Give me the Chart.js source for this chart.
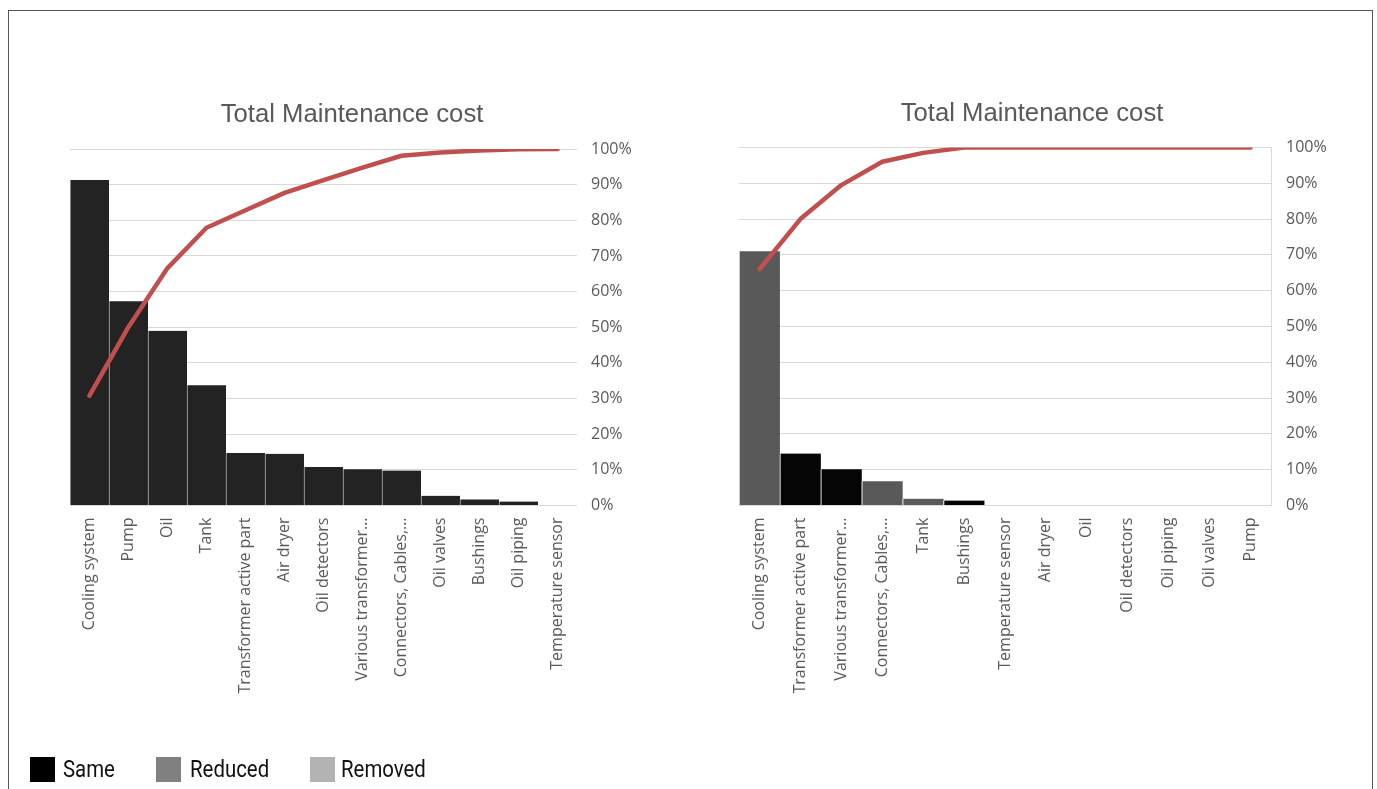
<!DOCTYPE html>
<html>
<head>
<meta charset="utf-8">
<script src="https://cdn.jsdelivr.net/npm/chart.js@4.4.0/dist/chart.umd.min.js"></script>
<style>
  html, body { margin: 0; padding: 0; background: #fff; width: 1377px; height: 789px; overflow: hidden; }
  .frame { position: absolute; left: 8px; top: 10px; width: 1365px; height: 820px; border: 1.5px solid #555; box-sizing: border-box; }
  canvas { position: absolute; top: 0; }
  .title { position: absolute; transform: translate(-50%, -50%); font-family: "Liberation Sans", Arial, sans-serif; font-size: 25.7px; color: #595959; white-space: nowrap; }
  .legend { position: absolute; top: 757px; left: 0; font-family: "Roboto", sans-serif; font-size: 24px; color: #111; }
  .legend span.box { position: absolute; top: 0; width: 25px; height: 25px; }
  .legend span.txt { position: absolute; top: -1px; line-height: 27px; white-space: nowrap; transform: scaleX(0.85); transform-origin: left center; }
</style>
</head>
<body>
<div class="frame"></div>
<canvas id="left" width="690" height="789" style="left:0"></canvas>
<canvas id="right" width="687" height="789" style="left:690px"></canvas>
<div class="title" style="left:352px; top:113px">Total Maintenance cost</div>
<div class="title" style="left:1032px; top:112px">Total Maintenance cost</div>
<div class="legend">
  <span class="box" style="left:30px; background:#000"></span><span class="txt" style="left:63px">Same</span>
  <span class="box" style="left:156px; background:#808080"></span><span class="txt" style="left:190px">Reduced</span>
  <span class="box" style="left:310px; background:#b3b3b3"></span><span class="txt" style="left:341px">Removed</span>
</div>
<script>
// before: left chart
const leftLabels = ['Cooling system', 'Pump', 'Oil', 'Tank', 'Transformer active part', 'Air dryer',
  'Oil detectors', 'Various transformer…', 'Connectors, Cables,…', 'Oil valves', 'Bushings',
  'Oil piping', 'Temperature sensor'];
const leftCost = [91.3, 57.3, 49.0, 33.7, 14.7, 14.5, 10.8, 10.2, 9.8, 2.7, 1.7, 1.1, 0];
const leftCumulative = [30.8, 50.1, 66.6, 77.9, 82.8, 87.7, 91.3, 94.8, 98.1, 99.0, 99.6, 99.9, 100];

// after: right chart
const rightLabels = ['Cooling system', 'Transformer active part', 'Various transformer…',
  'Connectors, Cables,…', 'Tank', 'Bushings', 'Temperature sensor', 'Air dryer', 'Oil',
  'Oil detectors', 'Oil piping', 'Oil valves', 'Pump'];
const rightCost = [71.0, 14.5, 10.1, 6.8, 1.9, 1.4, 0, 0, 0, 0, 0, 0, 0];
const rightStatus = ['Reduced', 'Same', 'Same', 'Reduced', 'Reduced', 'Same', 'Removed', 'Removed',
  'Removed', 'Removed', 'Removed', 'Removed', 'Removed'];
const rightCumulative = [66.0, 80.0, 89.5, 96.0, 98.5, 100, 100, 100, 100, 100, 100, 100, 100];

const percentTicks = [0, 10, 20, 30, 40, 50, 60, 70, 80, 90, 100];

const statusColor = { Same: '#050505', Reduced: '#595959', Removed: '#b3b3b3' };
const lineRed = '#c0504d';
const gridGrey = '#d9d9d9';
const textGrey = '#595959';

function makeConfig(labels, cost, cumulative, barColors, barBorder, opts) {
  return {
    data: {
      labels: labels,
      datasets: [
        {
          type: 'line',
          data: cumulative,
          borderColor: lineRed,
          borderWidth: 4.5,
          pointRadius: 0,
          tension: 0,
          borderCapStyle: 'round',
          borderJoinStyle: 'round',
          order: 0
        },
        {
          type: 'bar',
          data: cost,
          backgroundColor: barColors,
          borderColor: barBorder,
          borderWidth: { left: 1, right: 0, top: 0, bottom: 0 },
          categoryPercentage: 1,
          barPercentage: 1,
          order: 1
        }
      ]
    },
    options: {
      responsive: false,
      animation: false,
      layout: { padding: { left: opts.padLeft, top: opts.padTop, right: 0, bottom: 0 } },
      plugins: { legend: { display: false }, tooltip: { enabled: false } },
      scales: {
        x: {
          grid: { display: false, drawTicks: false },
          border: { display: false },
          ticks: {
            autoSkip: false, minRotation: 90, maxRotation: 90, padding: 12,
            color: textGrey, font: { family: '"Open Sans", sans-serif', size: 16 }
          },
          afterFit: s => { s.height = opts.xHeight; }
        },
        y: {
          position: 'right',
          min: 0, max: 100,
          afterBuildTicks: s => { s.ticks = percentTicks.map(v => ({ value: v })); },
          grid: { color: gridGrey, lineWidth: 1, drawTicks: false },
          border: { display: opts.rightBorder, color: gridGrey, width: 1 },
          ticks: {
            padding: opts.tickPad,
            color: textGrey,
            font: { family: '"Open Sans", sans-serif', size: 16 },
            callback: v => v + '%'
          },
          afterFit: s => { s.width = opts.yWidth; }
        }
      }
    }
  };
}

new Chart(document.getElementById('left'), makeConfig(
  leftLabels, leftCost, leftCumulative, '#232323', '#b8b8b8',
  { padLeft: 70, padTop: 149, xHeight: 283.5, yWidth: 113, tickPad: 14, rightBorder: false }
));

new Chart(document.getElementById('right'), makeConfig(
  rightLabels, rightCost, rightCumulative, rightStatus.map(s => statusColor[s]), '#ffffff',
  { padLeft: 49, padTop: 147.5, xHeight: 283.5, yWidth: 106, tickPad: 15, rightBorder: true }
));
</script>
</body>
</html>
